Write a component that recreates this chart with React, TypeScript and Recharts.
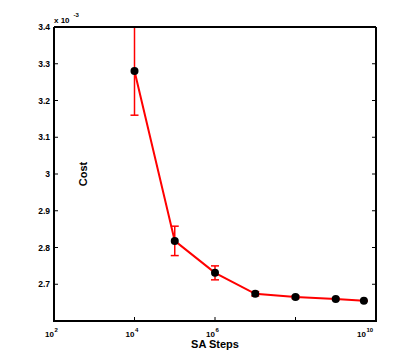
import React from "react";
import {
  ComposedChart,
  Line,
  XAxis,
  YAxis,
  ErrorBar,
  Label,
  ReferenceLine,
} from "recharts";

// SA steps (log scale) and cost in units of 1e-3
const steps = [1e4, 1e5, 1e6, 1e7, 1e8, 1e9, 5e9];
const cost = [3.28, 2.818, 2.731, 2.674, 2.665, 2.66, 2.655];
const costErr = [0.12, 0.04, 0.019, 0.006, 0.004, 0.002, 0.001];

const xTicks = [1e2, 1e4, 1e6, 1e8, 1e10];
const yTicks = [2.7, 2.8, 2.9, 3.0, 3.1, 3.2, 3.3, 3.4];

const X_DOMAIN = [1e2, 1e10];
const Y_DOMAIN = [2.6, 3.4];

const data = steps.map((s, i) => ({ steps: s, cost: cost[i], err: costErr[i] }));

const FONT = "'Liberation Sans', Arial, Helvetica, sans-serif";

const XTick = (props: any) => {
  const { x, payload } = props;
  const exp = String(Math.round(Math.log10(payload.value)));
  const shift = exp.length > 1 ? 5 : 0;
  return (
    <g fontFamily={FONT} fontWeight="bold" fill="#000">
      <text x={x - shift} y={337} fontSize={8} textAnchor="end">
        10
      </text>
      <text x={x - shift + 0.5} y={332} fontSize={6} textAnchor="start">
        {exp}
      </text>
    </g>
  );
};

const YTick = (props: any) => {
  const { y, payload } = props;
  const label = String(Number(payload.value.toFixed(1)));
  return (
    <text
      x={50}
      y={y + 3}
      fontSize={8.5}
      fontFamily={FONT}
      fontWeight="bold"
      textAnchor="end"
      fill="#000"
    >
      {label}
    </text>
  );
};

const Blank = () => <g />;

// frame axes: mirrored so the ticks point inwards
const frame = {
  stroke: "#000",
  strokeWidth: 2,
  tickSize: 4,
  mirror: true,
  allowDataOverflow: true,
  tick: <Blank />,
  tickLine: { strokeWidth: 1 },
};

// inward tick length on the bottom edge, in data units (~4px)
const bottomTick = (Y_DOMAIN[1] - Y_DOMAIN[0]) / 74;

export default function App() {
  return (
    <div
      style={{
        position: "absolute",
        left: 0,
        top: 0,
        width: 415,
        height: 362,
        background: "#fff",
      }}
    >
      <ComposedChart
        width={415}
        height={362}
        data={data}
        margin={{ top: 27, right: 39, left: 0, bottom: 0 }}
      >
        <XAxis
          dataKey="steps"
          type="number"
          scale="log"
          domain={X_DOMAIN}
          ticks={xTicks}
          allowDataOverflow
          height={41}
          axisLine={false}
          tickLine={false}
          tick={<XTick />}
        >
          <Label
            content={() => (
              <text
                x={215}
                y={348}
                fontSize={11}
                fontFamily={FONT}
                fontWeight="bold"
                textAnchor="middle"
                fill="#000"
              >
                SA Steps
              </text>
            )}
          />
        </XAxis>
        <XAxis
          {...frame}
          xAxisId="top"
          orientation="top"
          type="number"
          scale="log"
          domain={X_DOMAIN}
          ticks={xTicks}
          height={1}
        />
        <YAxis
          type="number"
          domain={Y_DOMAIN}
          ticks={yTicks}
          allowDataOverflow
          width={54}
          axisLine={false}
          tickLine={false}
          tick={<YTick />}
        >
          <Label
            content={() => (
              <g fontFamily={FONT} fontWeight="bold" fill="#000">
                <text
                  x={86.5}
                  y={174}
                  fontSize={11}
                  textAnchor="middle"
                  transform="rotate(-90 86.5 174)"
                >
                  Cost
                </text>
                <text x={54} y={22.5} fontSize={8}>
                  x 10
                </text>
                <text x={73.5} y={17} fontSize={6}>
                  -3
                </text>
              </g>
            )}
          />
        </YAxis>
        <YAxis
          {...frame}
          yAxisId="leftFrame"
          orientation="left"
          type="number"
          domain={Y_DOMAIN}
          ticks={yTicks}
          width={1}
        />
        <YAxis
          {...frame}
          yAxisId="right"
          orientation="right"
          type="number"
          domain={Y_DOMAIN}
          ticks={yTicks}
          width={1}
        />
        {xTicks.slice(1, -1).map((t) => (
          <ReferenceLine
            key={t}
            segment={[
              { x: t, y: Y_DOMAIN[0] },
              { x: t, y: Y_DOMAIN[0] + bottomTick },
            ]}
            stroke="#000"
            strokeWidth={1}
            ifOverflow="visible"
          />
        ))}
        <Line
          dataKey="cost"
          type="linear"
          stroke="#ff0000"
          strokeWidth={2}
          dot={{ r: 4, fill: "#000", stroke: "#000", strokeWidth: 0 }}
          activeDot={false}
          isAnimationActive={false}
        >
          <ErrorBar
            dataKey="err"
            direction="y"
            width={4}
            stroke="#ff0000"
            strokeWidth={1.5}
            isAnimationActive={false}
          />
        </Line>
      </ComposedChart>
      {/* bottom edge of the box */}
      <div
        style={{
          position: "absolute",
          left: 53,
          top: 320,
          width: 324,
          height: 2,
          background: "#000",
          zIndex: 2,
        }}
      />
    </div>
  );
}
